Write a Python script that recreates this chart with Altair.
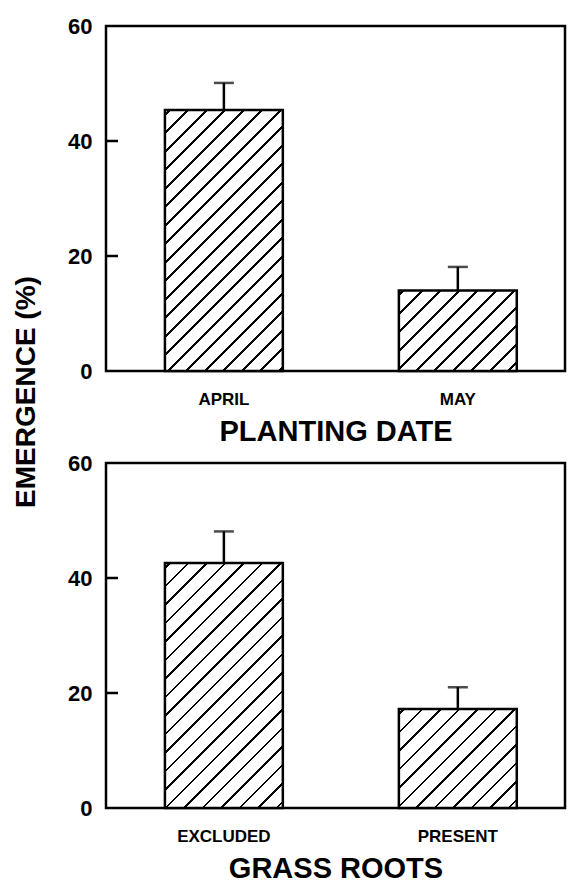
import altair as alt
import pandas as pd

# ---- data ----
planting_cats = ["APRIL", "MAY"]
planting_vals = [45.4, 14.0]
planting_err = [4.7, 4.1]

roots_cats = ["EXCLUDED", "PRESENT"]
roots_vals = [42.6, 17.2]
roots_err = [5.5, 3.8]

y_ticks = [0, 20, 40, 60]
inner_ticks = [20, 40]

# ---- layout / style ----
W = 459
H = 345
P_INNER = 0.496
P_OUTER = 0.229
ALIGN = 0.55
Y_MAX = 60
FONT = "Liberation Sans"

STRIPE_GAP = 18.5   # horizontal spacing between hatch lines (px)
STRIPE_W = 2.0      # hatch line thickness (px)
STRIPE_PHASE = 5.0


def hatch_fill(h_px, w_px):
    """45-degree hatch built as a hard-stop linear gradient in bbox units."""
    tot = w_px + h_px
    x2 = (w_px + h_px) * w_px / (w_px ** 2 + h_px ** 2)
    y2 = (w_px + h_px) * h_px / (w_px ** 2 + h_px ** 2)
    half = STRIPE_W * 0.7071
    stops = [{"offset": 0.0, "color": "white"}]
    c = STRIPE_PHASE
    while c - half < tot:
        a = max(0.0, (c - half) / tot)
        b = min(1.0, (c + half) / tot)
        if b > 0:
            stops.append({"offset": a, "color": "white"})
            stops.append({"offset": a, "color": "black"})
            stops.append({"offset": b, "color": "black"})
            stops.append({"offset": b, "color": "white"})
        c += STRIPE_GAP
    stops.append({"offset": 1.0, "color": "white"})
    return {"gradient": "linear", "x1": 0, "y1": 0, "x2": x2, "y2": y2, "stops": stops}


step = W / (2 - P_INNER + 2 * P_OUTER)
bandwidth = step * (1 - P_INNER)


def panel(cats, vals, errs, xtitle):
    df = pd.DataFrame({
        "cat": cats,
        "val": vals,
        "upper": [v + e for v, e in zip(vals, errs)],
    })
    xenc = alt.X(
        "cat:N",
        sort=cats,
        scale=alt.Scale(domain=cats, paddingInner=P_INNER, paddingOuter=P_OUTER, align=ALIGN),
        axis=alt.Axis(
            title=xtitle, labelAngle=0, ticks=False, tickSize=0, domain=False,
            labelPadding=20, labelFontSize=17, labelFontWeight="bold", labelColor="black",
            titleFontSize=29, titleFontWeight="bold", titlePadding=10, titleColor="black",
        ),
    )
    yscale = alt.Scale(domain=[0, Y_MAX], nice=False)
    yaxis = alt.Axis(
        values=y_ticks, title=None, ticks=False, tickSize=0, domain=False, grid=False,
        labelPadding=14, labelFontSize=22, labelFontWeight="bold", labelColor="black",
    )
    base = alt.Chart(df)
    layers = []
    for c, v in zip(cats, vals):
        h_px = v / Y_MAX * H
        layers.append(
            base.transform_filter(alt.datum.cat == c)
            .mark_bar(fill=hatch_fill(h_px, bandwidth), stroke="black", strokeWidth=2.5)
            .encode(x=xenc, y=alt.Y("val:Q", scale=yscale, axis=yaxis))
        )
    stem = base.mark_rule(color="black", strokeWidth=2.5).encode(
        x=xenc, y=alt.Y("val:Q", scale=yscale, axis=yaxis), y2="upper:Q"
    )
    cap = base.mark_tick(color="black", size=20, thickness=2.5).encode(
        x=xenc, y=alt.Y("upper:Q", scale=yscale, axis=yaxis)
    )
    tdf = pd.DataFrame({"t": inner_ticks})
    inticks = alt.Chart(tdf).mark_rule(color="black", strokeWidth=2.5).encode(
        y=alt.Y("t:Q", scale=yscale, axis=yaxis),
        x=alt.value(0), x2=alt.value(12),
    )
    return alt.layer(*layers, stem, cap, inticks).properties(width=W, height=H)


top = panel(planting_cats, planting_vals, planting_err, "PLANTING DATE")
bottom = panel(roots_cats, roots_vals, roots_err, "GRASS ROOTS")

chart = (
    alt.vconcat(top, bottom, spacing=2)
    .properties(
        title=alt.TitleParams(
            "EMERGENCE (%)", orient="left", anchor="middle", fontSize=28,
            fontWeight="bold", color="black", offset=25, dx=57,
        ),
        padding={"top": 5, "left": 5, "right": 0, "bottom": 0},
    )
    .configure(font=FONT)
    .configure_view(stroke="black", strokeWidth=2.5)
)

chart.save("out.html", embed_options={"renderer": "svg", "actions": False})
